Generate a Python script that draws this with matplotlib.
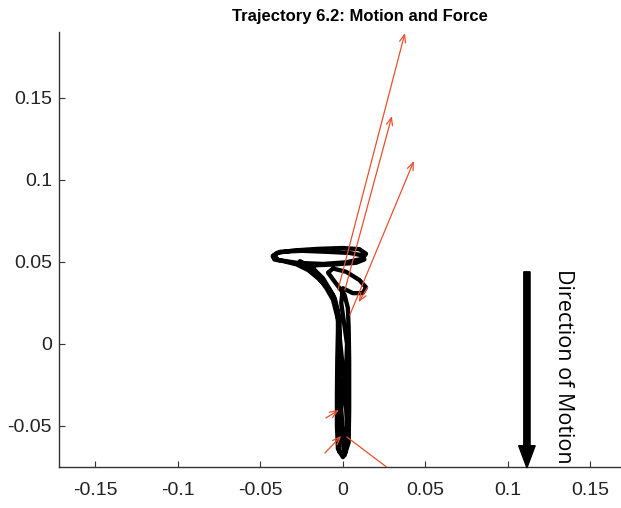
import matplotlib
matplotlib.use("Agg")
import matplotlib.pyplot as plt

# Hand trajectory (x, y in metres)
traj_x = [0.000, -0.0030, -0.0036, -0.0036, -0.0034, -0.0030, -0.0030, -0.0050, -0.0090,
          -0.0150, -0.0210, -0.0280, -0.0360, -0.0415, -0.0425, -0.0400, -0.0300, -0.0150,
          0.0000, 0.0100, 0.0140, 0.0120, 0.0020, -0.0120, -0.0280, -0.0390, -0.0420,
          -0.0380, -0.0250, -0.0100, 0.0040, 0.0120, 0.0130, 0.0080, -0.0050, -0.0160,
          -0.0200, -0.0150, -0.0100, -0.0060, -0.0030, -0.0015, 0.0005, -0.0010, 0.0005,
          0.0010, 0.0035, 0.0038, 0.0038, 0.0035, 0.0030, 0.0010, -0.0050, -0.0090,
          -0.0060, 0.0020, 0.0100, 0.0140, 0.0120, 0.0060, 0.0000, -0.0010, 0.0025,
          0.0015, 0.0025, 0.0015, -0.0020, -0.0025, -0.0020, -0.0020, -0.0060, -0.0120,
          -0.0180, -0.0260]
traj_y = [-0.0690, -0.0640, -0.0500, -0.0300, -0.0100, 0.0080, 0.0200, 0.0280, 0.0340,
          0.0400, 0.0450, 0.0485, 0.0505, 0.0515, 0.0535, 0.0555, 0.0570, 0.0580,
          0.0585, 0.0578, 0.0550, 0.0520, 0.0498, 0.0488, 0.0495, 0.0512, 0.0540,
          0.0562, 0.0568, 0.0562, 0.0555, 0.0540, 0.0515, 0.0495, 0.0485, 0.0480,
          0.0470, 0.0410, 0.0340, 0.0270, 0.0150, 0.0000, -0.0200, -0.0400, -0.0600,
          -0.0680, -0.0600, -0.0400, -0.0100, 0.0100, 0.0220, 0.0300, 0.0380, 0.0435,
          0.0460, 0.0440, 0.0390, 0.0345, 0.0310, 0.0310, 0.0340, 0.0250, 0.0000,
          -0.0300, -0.0500, -0.0660, -0.0660, -0.0400, -0.0100, 0.0150, 0.0300, 0.0400,
          0.0460, 0.0505]

# Force vectors: base points and tips
force_x0 = [-0.0030, 0.0012, 0.0042, 0.0150, -0.0103, -0.0109, 0.0024]
force_y0 = [0.0329, 0.0329, 0.0177, 0.0345, -0.0451, -0.0665, -0.0567]
force_x1 = [0.0376, 0.0297, 0.0430, 0.0095, -0.0024, -0.0010, 0.0330]
force_y1 = [0.1896, 0.1390, 0.1116, 0.0255, -0.0402, -0.0560, -0.0800]

x_ticks = [-0.15, -0.1, -0.05, 0, 0.05, 0.1, 0.15]
x_tick_labels = ["-0.15", "-0.1", "-0.05", "0", "0.05", "0.1", "0.15"]
y_ticks = [-0.05, 0, 0.05, 0.1, 0.15]
y_tick_labels = ["-0.05", "0", "0.05", "0.1", "0.15"]

fig = plt.figure(figsize=(6.21, 5.08), dpi=100)
ax = fig.add_axes([59 / 621, 41 / 508, 562 / 621, 435 / 508])

ax.plot(traj_x, traj_y, color="black", lw=3.1, solid_joinstyle="round",
        solid_capstyle="round", zorder=2)

red = "#e8502f"
for x0, y0, x1, y1 in zip(force_x0, force_y0, force_x1, force_y1):
    ann = ax.annotate("", xy=(x1, y1), xytext=(x0, y0),
                      arrowprops=dict(arrowstyle="->,head_length=0.55,head_width=0.22",
                                      color=red, lw=0.9, shrinkA=0, shrinkB=0),
                      annotation_clip=False, zorder=3)
    ann.arrow_patch.set_clip_on(True)
    ann.arrow_patch.set_clip_box(ax.bbox)

# Direction of motion indicator
ax.arrow(0.1115, 0.044, 0, -0.1195, width=0.0038, head_width=0.0100,
         head_length=0.0135, length_includes_head=True, color="black",
         clip_on=False, zorder=4)
ax.text(0.1338, 0.0460, "Direction of Motion", rotation=-90, ha="center", va="top",
        fontsize=15.5, family="Open Sans", color="black")

ax.set_xlim(-0.172, 0.1685)
ax.set_ylim(-0.075, 0.1902)
ax.set_xticks(x_ticks)
ax.set_xticklabels(x_tick_labels)
ax.set_yticks(y_ticks)
ax.set_yticklabels(y_tick_labels)

for s in ("top", "right"):
    ax.spines[s].set_visible(False)
for s in ("left", "bottom"):
    ax.spines[s].set_color("#333333")
    ax.spines[s].set_linewidth(1.0)

ax.tick_params(axis="both", direction="in", length=4, width=0.8, color="#333333",
               labelsize=14, labelcolor="#222222")
ax.tick_params(axis="x", pad=11)
ax.tick_params(axis="y", pad=5)
for lab in ax.get_xticklabels() + ax.get_yticklabels():
    lab.set_family("Liberation Sans")

fig.text(360 / 621, 1 - 17 / 508, "Trajectory 6.2: Motion and Force", ha="center",
         va="center", fontsize=12, fontweight="bold", family="Liberation Sans")

fig.savefig("out.png", dpi=100)
